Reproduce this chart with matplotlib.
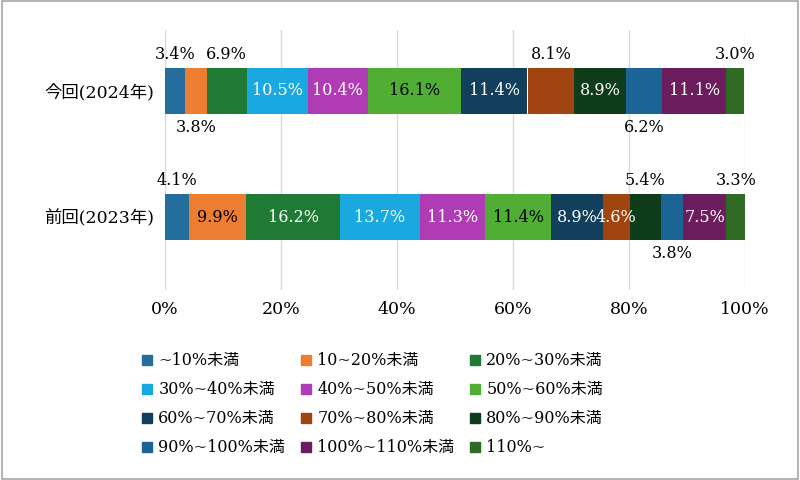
import matplotlib
matplotlib.use("Agg")
import matplotlib.pyplot as plt
from matplotlib.patches import Patch, Rectangle

plt.rcParams['font.family'] = ['DejaVu Serif', 'Noto Sans CJK JP']

categories = ['今回(2024年)', '前回(2023年)']
series = ['~10%未満', '10~20%未満', '20%~30%未満', '30%~40%未満', '40%~50%未満', '50%~60%未満',
          '60%~70%未満', '70%~80%未満', '80%~90%未満', '90%~100%未満', '100%~110%未満', '110%~']
v2024 = [3.4, 3.8, 6.9, 10.5, 10.4, 16.1, 11.4, 8.1, 8.9, 6.2, 11.1, 3.0]
v2023 = [4.1, 9.9, 16.2, 13.7, 11.3, 11.4, 8.9, 4.6, 5.4, 3.8, 7.5, 3.3]
xticks = [0, 20, 40, 60, 80, 100]

colors = ['#236e9c', '#ed7d31', '#1e7a34', '#19a9e0', '#b03cb5', '#4fae33',
          '#113f5c', '#a0450f', '#0f3d1b', '#1a6496', '#6b1d5e', '#2f6b25']
pos2024 = ['up', 'down', 'up', 'in', 'in', 'in', 'in', 'up', 'in', 'down', 'in', 'up']
pos2023 = ['up', 'in', 'in', 'in', 'in', 'in', 'in', 'in', 'up', 'down', 'in', 'up']
tc = ['white', 'black', 'white', 'white', 'white', 'black', 'white', 'white', 'white', 'white', 'white', 'white']

fig = plt.figure(figsize=(8, 4.8), dpi=100)
fig.patches.append(Rectangle((0.002, 0.002), 0.996, 0.996, transform=fig.transFigure,
                             fill=False, edgecolor='#a6a6a6', lw=1.2))
ax = fig.add_axes([165/800, 1-290/480, 580/800, 260/480])
h = 0.36
for yi, (vals, pos) in enumerate([(v2024, pos2024), (v2023, pos2023)]):
    left = 0
    for i, v in enumerate(vals):
        ax.barh(yi, v, left=left, height=h, color=colors[i], edgecolor='none')
        cx = left + v/2
        lab = f'{v:.1f}%'
        if pos[i] == 'in':
            ax.text(cx, yi, lab, ha='center', va='center', fontsize=11.5, color=tc[i])
        elif pos[i] == 'up':
            ax.text(cx, yi - h/2 - 0.04, lab, ha='center', va='bottom', fontsize=11.5)
        else:
            ax.text(cx, yi + h/2 + 0.04, lab, ha='center', va='top', fontsize=11.5)
        left += v

ax.set_xlim(0, 100)
ax.set_ylim(1.579, -0.484)
ax.set_xticks(xticks)
ax.set_xticklabels([f'{t}%' for t in xticks], fontsize=12.5)
ax.set_yticks([0, 1])
ax.set_yticklabels(categories, fontsize=12.5)
ax.tick_params(length=0, pad=8)
ax.grid(axis='x', color='#d9d9d9', lw=1)
ax.set_axisbelow(True)
for s in ax.spines.values():
    s.set_visible(False)

handles = [Patch(color=c) for c in colors]
nrow, ncol = 4, 3
order = [r*ncol + c for c in range(ncol) for r in range(nrow)]
fig.legend([handles[k] for k in order], [series[k] for k in order], ncol=ncol,
           loc='upper left', bbox_to_anchor=(128/800, 1-338/480),
           frameon=False, fontsize=11.5, handlelength=0.6, handleheight=0.6,
           handletextpad=0.4, columnspacing=1.0, labelspacing=0.75)

fig.savefig('out.png', dpi=100)
